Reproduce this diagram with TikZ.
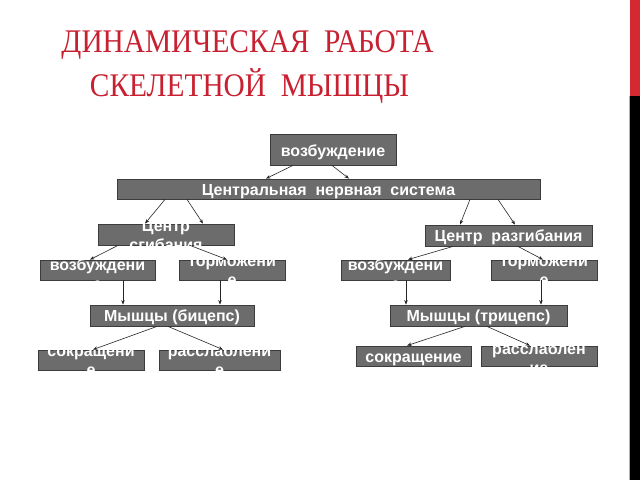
\documentclass[tikz,border=0pt]{standalone}
\usepackage{fontspec}
\setmainfont{Liberation Serif}
\newfontfamily\boxsans{Liberation Sans}
\usetikzlibrary{calc,arrows.meta}
\definecolor{titlered}{RGB}{200,32,48}
\definecolor{boxgray}{RGB}{108,108,108}
\definecolor{boxedge}{RGB}{60,60,60}
\definecolor{barred}{RGB}{214,40,48}
\begin{document}
\begin{tikzpicture}[x=1pt,y=1pt,
  box/.style={draw=boxedge,fill=boxgray,line width=0.8pt,inner sep=0pt},
  txt/.style={text=white,font=\boxsans\bfseries\fontsize{16}{19}\selectfont,align=center,inner sep=0pt},
  one/.style={txt,anchor=base},
  two/.style={txt,anchor=north},
  ttl/.style={text=titlered,font=\fontsize{33}{36}\selectfont,anchor=base,inner sep=0pt},
  conn/.style={draw=black!85,line width=0.6pt,-{Stealth[length=4.5pt,width=3.5pt]}}]
\fill[white] (0,0) rectangle (640,480);
\useasboundingbox (0,0) rectangle (640,480);
% right bar
\fill[barred] (630,384) rectangle (640,480);
\fill[black] (630,0) rectangle (640,384);
\draw[gray!60,line width=0.5pt] (629.5,0) -- (629.5,384);
% title
\node[ttl] (t1) at (247.5,427) {\scalebox{0.89}[1]{ДИНАМИЧЕСКАЯ\ \ РАБОТА}};
\node[ttl] (t2) at (249.5,383) {\scalebox{0.89}[1]{СКЕЛЕТНОЙ\ \ МЫШЦЫ}};
% boxes
\node[box,minimum width=126,minimum height=31] (top) at (333,330.5) {};
\node[box,minimum width=423,minimum height=20] (cns) at (328.5,291) {};
\node[box,minimum width=136,minimum height=21] (cflex) at (166,245.5) {};
\node[box,minimum width=167,minimum height=21] (cext) at (508.5,244.5) {};
\node[box,minimum width=115,minimum height=20] (exL) at (97.5,210) {};
\node[box,minimum width=106,minimum height=20] (inL) at (232,210) {};
\node[box,minimum width=109,minimum height=20] (exR) at (395.5,210) {};
\node[box,minimum width=106,minimum height=20] (inR) at (544,210) {};
\node[box,minimum width=164,minimum height=21] (bic) at (172,164.5) {};
\node[box,minimum width=177,minimum height=21] (tri) at (478.5,164.5) {};
\node[box,minimum width=106,minimum height=20] (conL) at (91,120) {};
\node[box,minimum width=121,minimum height=20] (relL) at (219.5,120) {};
\node[box,minimum width=115,minimum height=20] (conR) at (413.5,124) {};
\node[box,minimum width=116,minimum height=20] (relR) at (539,124) {};
% texts
\node[one] (topT) at ($(top)+(0,-7)$) {возбуждение};
\node[one] (cnsT) at ($(cns)+(0,-6.5)$) {Центральная\ \ нервная\ \ система};
\node[two] (cflexT) at ($(cflex)+(0,14)$) {Центр\\сгибания};
\node[one] (cextT) at ($(cext)+(0,-6)$) {Центр\ \ разгибания};
\node[two] (exLT) at ($(exL)+(0,11)$) {возбуждени\\е};
\node[two] (inLT) at ($(inL)+(0,12)$) {торможени\\е};
\node[two] (exRT) at ($(exR)+(0,11)$) {возбуждени\\е};
\node[two] (inRT) at ($(inR)+(0,12)$) {торможени\\е};
\node[one] (bicT) at ($(bic)+(0,-6)$) {Мышцы (бицепс)};
\node[one] (triT) at ($(tri)+(0,-6)$) {Мышцы (трицепс)};
\node[two] (conLT) at ($(conL)+(0,12.5)$) {сокращени\\е};
\node[two] (relLT) at ($(relL)+(0,15)$) {расслаблени\\е};
\node[one] (conRT) at ($(conR)+(0,-6)$) {сокращение};
\node[two] (relRT) at ($(relR)+(0,13.5)$) {расслаблен\\ие};
% connectors
\draw[conn] ($(top.south)+(-40,0)$) -- ($(cns.north)+(-62.5,0)$);
\draw[conn] ($(top.south)+(-1,0)$) -- ($(cns.north)+(20.5,0)$);
\draw[conn] ($(cns.south)+(-163.5,0)$) -- ($(cflex.north)+(-21,0)$);
\draw[conn] ($(cns.south)+(-141.5,0)$) -- ($(cflex.north)+(37,0)$);
\draw[conn] ($(cns.south)+(141.5,0)$) -- ($(cext.north)+(-48.5,0)$);
\draw[conn] ($(cns.south)+(169.5,0)$) -- ($(cext.north)+(6.5,0)$);
\draw[conn] ($(cflex.south)+(-48,0)$) -- ($(exL.north)+(-7.5,0)$);
\draw[conn] ($(cflex.south)+(24,0)$) -- ($(inL.north)+(-5,0)$);
\draw[conn] ($(cext.south)+(-55.5,0)$) -- ($(exR.north)+(12.5,0)$);
\draw[conn] ($(cext.south)+(9.5,0)$) -- ($(inR.north)+(-1,0)$);
\draw[conn] ($(exL.south)+(25.5,0)$) -- ($(bic.north)+(-49,0)$);
\draw[conn] ($(inL.south)+(-12,0)$) -- ($(bic.north)+(48,0)$);
\draw[conn] ($(exR.south)+(10.5,0)$) -- ($(tri.north)+(-72.5,0)$);
\draw[conn] ($(inR.south)+(-3,0)$) -- ($(tri.north)+(62.5,0)$);
\draw[conn] ($(bic.south)+(-15,0)$) -- ($(conL.north)+(2,0)$);
\draw[conn] ($(bic.south)+(-4,0)$) -- ($(relL.north)+(3.5,0)$);
\draw[conn] ($(tri.south)+(-13.5,0)$) -- ($(conR.north)+(-6.5,0)$);
\draw[conn] ($(tri.south)+(8.5,0)$) -- ($(relR.north)+(-9,0)$);
\end{tikzpicture}
\end{document}
